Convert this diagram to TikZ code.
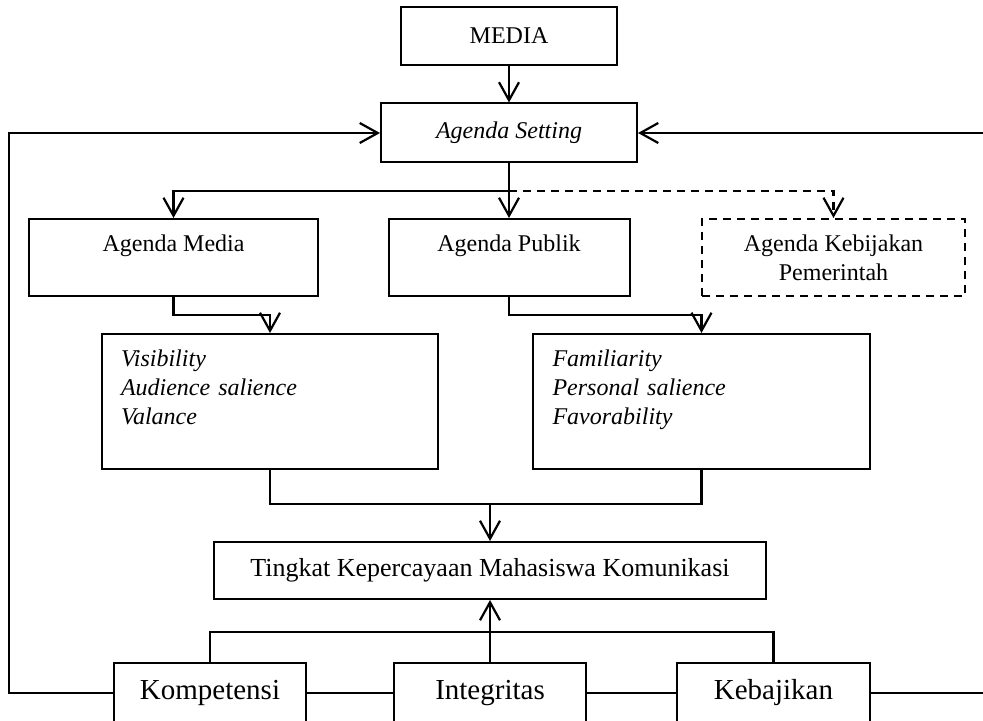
\documentclass[tikz,border=0pt]{standalone}
\usepackage{fontspec}
\setmainfont{Liberation Serif}
\usetikzlibrary{arrows.meta}

\begin{document}
\begin{tikzpicture}[x=0.5pt,y=-0.5pt,
        box/.style={draw,line width=1pt,inner sep=0pt,font=\fontsize{12}{14.4}\selectfont},
        link/.style={line width=1.2pt},
        >={Straight Barb[length=9pt,width=10pt,line width=1.1pt]}]
    \useasboundingbox (0,0) rectangle (983,721);
    % top
    \node[box,minimum width=108pt,minimum height=29pt] (media) at (509,36) {MEDIA};
    \node[box,minimum width=128pt,minimum height=29.5pt] (setting) at (509,133) {\textit{Agenda Setting}};
    % agenda row
    \node[box,align=center,minimum width=144.5pt,minimum height=38.5pt] (amedia) at (173.5,257.5) {Agenda Media\\\mbox{}};
    \node[box,align=center,minimum width=120.5pt,minimum height=38.5pt] (apublik) at (509,257.5) {Agenda Publik\\\mbox{}};
    \node[box,dash pattern=on 4pt off 3pt,align=center,minimum width=131.5pt,minimum height=38.5pt] (agkeb) at (833.5,257.5) {Agenda Kebijakan\\Pemerintah};
    % dimensions
    \node[box,text width=149pt,align=left,minimum width=168pt,minimum height=67.5pt] (vis) at (270,401.5)
        {\itshape Visibility\\Audience salience\\Valance\\\mbox{}};
    \node[box,text width=149pt,align=left,minimum width=168.5pt,minimum height=67.5pt] (fam) at (701.5,401.5)
        {\itshape Familiarity\\Personal salience\\Favorability\\\mbox{}};
    \node[box,font=\fontsize{13}{15.6}\selectfont,minimum width=276pt,minimum height=28.5pt] (tingkat) at (490,570.5)
        {Tingkat Kepercayaan Mahasiswa Komunikasi};
    % bottom row
    \node[box,font=\fontsize{14.5}{17.4}\selectfont,minimum width=96pt,minimum height=30pt] (komp) at (210,693) {Kompetensi};
    \node[box,font=\fontsize{14.5}{17.4}\selectfont,minimum width=96pt,minimum height=30pt] (integ) at (490,693) {Integritas};
    \node[box,font=\fontsize{14.5}{17.4}\selectfont,minimum width=96.5pt,minimum height=30pt] (kebaj) at (773.5,693) {Kebajikan};
    \coordinate (split) at (509,191);
    \coordinate (join) at (490,504);
    \coordinate (meet) at (490,632);
    \coordinate (lft) at (9,133);
    \coordinate (rtop) at (983,133);
    \coordinate (rbot) at (983,693);
    % connectors
    \draw[link,->] (media) -- (setting);
    \draw[link,->] (setting) -- (apublik);
    \draw[link,->] (split) -| (amedia.north);
    \draw[link,dash pattern=on 4pt off 3pt,->] (split) -| (agkeb.north);
    \draw[link,->] (amedia.south) -- ++(0,18) -| (vis.north);
    \draw[link,->] (apublik.south) -- ++(0,18) -| (fam.north);
    \draw[link] (vis.south) |- (join) -| (fam.south);
    \draw[link,->] (join) -- (tingkat);
    \draw[link] (komp.north) |- (meet) -| (kebaj.north);
    \draw[link,->] (integ) -- (tingkat);
    \draw[link] (komp) -- (integ);
    \draw[link] (integ) -- (kebaj);
    \draw[link,->] (komp.west) -| (lft) -- (setting.west);
    \draw[link] (kebaj.east) -- (rbot);
    \draw[link,->] (rtop) -- (setting.east);
\end{tikzpicture}
\end{document}
